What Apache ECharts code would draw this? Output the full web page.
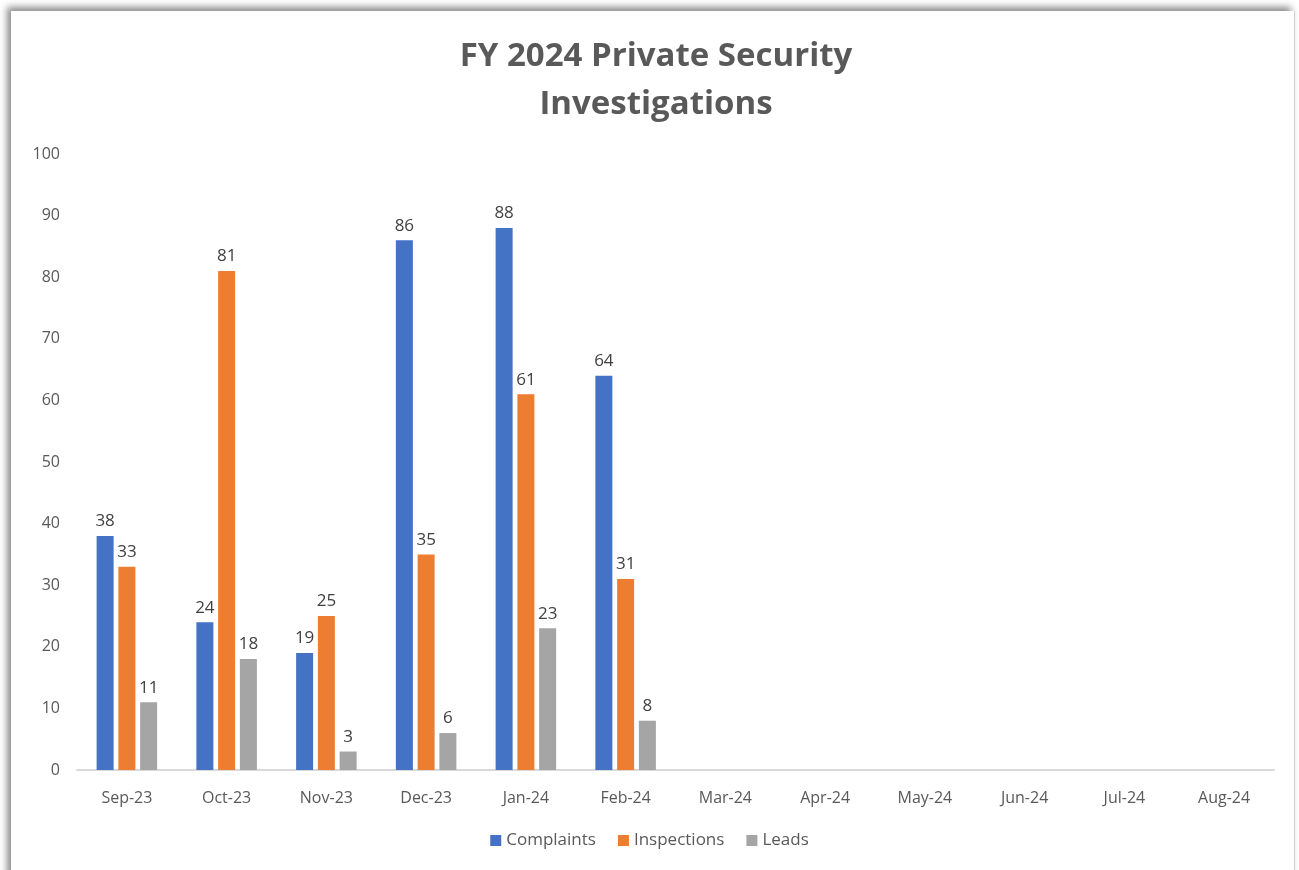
<!DOCTYPE html>
<html>
<head>
<meta charset="utf-8">
<script src="https://cdn.jsdelivr.net/npm/echarts@6/dist/echarts.min.js"></script>
<style>
  html, body { margin: 0; padding: 0; background: #fff; }
  #frame {
    position: absolute; left: 11px; top: 11px; width: 1283px; height: 870px;
    background: #fff; box-shadow: -4px -4px 7px #8c8c8c; border-right: 1px solid #d0d0d0;
  }
  #chart { position: absolute; left: 0; top: 0; width: 1299px; height: 870px; }
</style>
</head>
<body>
<div id="frame"></div>
<div id="chart"></div>
<script>
const months = ['Sep-23', 'Oct-23', 'Nov-23', 'Dec-23', 'Jan-24', 'Feb-24', 'Mar-24', 'Apr-24', 'May-24', 'Jun-24', 'Jul-24', 'Aug-24']
const complaints = [38, 24, 19, 86, 88, 64, null, null, null, null, null, null]
const inspections = [33, 81, 25, 35, 61, 31, null, null, null, null, null, null]
const leads = [11, 18, 3, 6, 23, 8, null, null, null, null, null, null]

const font = "'Open Sans', 'Noto Sans', sans-serif"
const labelStyle = {
  show: true,
  position: 'top',
  color: '#404040',
  fontSize: 17,
  fontFamily: font,
  distance: 6
}

const chart = echarts.init(document.getElementById('chart'))
chart.setOption({
  backgroundColor: 'transparent',
  animation: false,
  title: {
    text: 'FY 2024 Private Security\nInvestigations',
    left: 651,
    textAlign: 'center',
    top: 28,
    textStyle: {
      fontFamily: font,
      fontSize: 33,
      fontWeight: 'bold',
      color: '#595959',
      lineHeight: 48
    }
  },
  color: ['#4472c4', '#ed7d31', '#a5a5a5'],
  legend: {
    bottom: 16,
    left: 'center',
    itemWidth: 11,
    itemHeight: 11,
    itemGap: 22,
    icon: 'rect',
    textStyle: { color: '#595959', fontSize: 17, fontFamily: font },
    data: ['Complaints', 'Inspections', 'Leads']
  },
  grid: { left: 77, right: 25, top: 154, bottom: 100 },
  xAxis: {
    type: 'category',
    data: months,
    axisTick: { show: false },
    axisLine: { lineStyle: { color: '#d9d9d9', width: 2 } },
    axisLabel: { color: '#595959', fontSize: 16, fontFamily: font, margin: 20, interval: 0 }
  },
  yAxis: {
    type: 'value',
    min: 0,
    max: 100,
    interval: 10,
    splitLine: { show: false },
    axisLine: { show: false },
    axisTick: { show: false },
    axisLabel: { color: '#595959', fontSize: 16, fontFamily: font, margin: 17 }
  },
  series: [
    { name: 'Complaints', type: 'bar', data: complaints, barWidth: 17, barGap: '28%', label: labelStyle },
    { name: 'Inspections', type: 'bar', data: inspections, barWidth: 17, barGap: '28%', label: labelStyle },
    { name: 'Leads', type: 'bar', data: leads, barWidth: 17, barGap: '28%', label: labelStyle }
  ]
})
</script>
</body>
</html>
